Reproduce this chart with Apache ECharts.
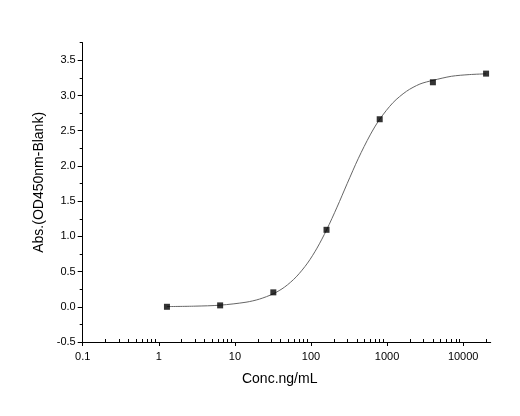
<!DOCTYPE html>
<html><head><meta charset="utf-8">
<script src="https://cdn.jsdelivr.net/npm/echarts@6/dist/echarts.min.js"></script>
<style>html,body{margin:0;padding:0;background:#fff}#c{width:520px;height:416px}</style>
</head><body><div id="c"></div>
<script>
const conc = [1.28, 6.4, 32, 160, 800, 4000, 20000];
const absorbance = [0.00, 0.02, 0.205, 1.093, 2.663, 3.188, 3.311];
const fitConc = [1.28, 3, 6.4, 14, 21, 32, 45, 64, 90, 120, 160, 220, 300, 420, 600, 800, 1200, 1800, 2700, 4000, 7000, 12000, 20000];
const fitAbs  = [0.003, 0.009, 0.023, 0.065, 0.109, 0.185, 0.28, 0.425, 0.62, 0.833, 1.09, 1.415, 1.753, 2.109, 2.441, 2.663, 2.90, 3.06, 3.163, 3.215, 3.273, 3.297, 3.308];
const xMajorTicks = [0.1, 1, 10, 100, 1000, 10000];
const xTickLabels = ['0.1', '1', '10', '100', '1000', '10000'];
const xMinorTicks = [0.2,0.3,0.4,0.5,0.6,0.7,0.8,0.9, 2,3,4,5,6,7,8,9, 20,30,40,50,60,70,80,90,
  200,300,400,500,600,700,800,900, 2000,3000,4000,5000,6000,7000,8000,9000, 20000];
const yMajorTicks = [-0.5, 0, 0.5, 1, 1.5, 2, 2.5, 3, 3.5];
const yTickLabels = ['-0.5', '0.0', '0.5', '1.0', '1.5', '2.0', '2.5', '3.0', '3.5'];
const yMinorTicks = [-0.25, 0.25, 0.75, 1.25, 1.75, 2.25, 2.75, 3.25, 3.75];

const font = "'Liberation Sans', Arial, sans-serif";
const xLabelFor = v => { const i = xMajorTicks.findIndex(t => Math.abs(Math.log10(t) - Math.log10(v)) < 1e-6); return i >= 0 ? xTickLabels[i] : ''; };
const yLabelFor = v => { const i = yMajorTicks.findIndex(t => Math.abs(t - v) < 1e-6); return i >= 0 ? yTickLabels[i] : ''; };

const xBase = { type: 'log', logBase: 10, min: 0.1, max: 23000, splitLine: { show: false } };
const yBase = { type: 'value', min: -0.5, max: 3.75, splitLine: { show: false } };

const chart = echarts.init(document.getElementById('c'), null, { renderer: 'canvas' });
chart.setOption({
  animation: false,
  backgroundColor: '#fff',
  grid: { left: 82.7, right: 29.3, top: 42.7, bottom: 74 },
  xAxis: [
    Object.assign({}, xBase, {
      position: 'bottom',
      name: 'Conc.ng/mL', nameLocation: 'middle', nameGap: 30,
      nameTextStyle: { fontFamily: font, fontSize: 14, color: '#000', padding: [0, 14, 0, 0] },
      axisLine: { show: true, onZero: false, lineStyle: { color: '#000', width: 1 } },
      axisTick: { show: true, inside: false, length: 4, customValues: xMajorTicks, lineStyle: { color: '#000' } },
      axisLabel: { show: true, margin: 9, customValues: xMajorTicks, formatter: xLabelFor, fontFamily: font, fontSize: 11, color: '#000' }
    }),
    Object.assign({}, xBase, {
      position: 'bottom',
      axisLine: { show: false, onZero: false },
      axisTick: { show: true, inside: true, length: 3, customValues: xMinorTicks, lineStyle: { color: '#000' } },
      axisLabel: { show: false }
    })
  ],
  yAxis: [
    Object.assign({}, yBase, {
      position: 'left',
      name: 'Abs.(OD450nm-Blank)', nameLocation: 'middle', nameGap: 36,
      nameTextStyle: { fontFamily: font, fontSize: 14, color: '#000', padding: [0, 0, 0, 20] },
      axisLine: { show: true, onZero: false, lineStyle: { color: '#000', width: 1 } },
      axisTick: { show: true, inside: false, length: 5, customValues: yMajorTicks, lineStyle: { color: '#000' } },
      axisLabel: { show: true, margin: 7, customValues: yMajorTicks, formatter: yLabelFor, fontFamily: font, fontSize: 11, color: '#000' }
    }),
    Object.assign({}, yBase, {
      position: 'left',
      axisLine: { show: false, onZero: false },
      axisTick: { show: true, inside: false, length: 3, customValues: yMinorTicks, lineStyle: { color: '#000' } },
      axisLabel: { show: false }
    })
  ],
  series: [
    {
      type: 'line', name: 'fit', xAxisIndex: 0, yAxisIndex: 0,
      data: fitConc.map((c, i) => [c, fitAbs[i]]),
      smooth: 0.3, showSymbol: false, symbol: 'none',
      lineStyle: { color: '#666', width: 1 }, z: 2
    },
    {
      type: 'scatter', name: 'data', xAxisIndex: 0, yAxisIndex: 0,
      data: conc.map((c, i) => [c, absorbance[i]]),
      symbol: 'rect', symbolSize: 6,
      itemStyle: { color: '#000' }, z: 3
    }
  ]
});
</script>
</body></html>
